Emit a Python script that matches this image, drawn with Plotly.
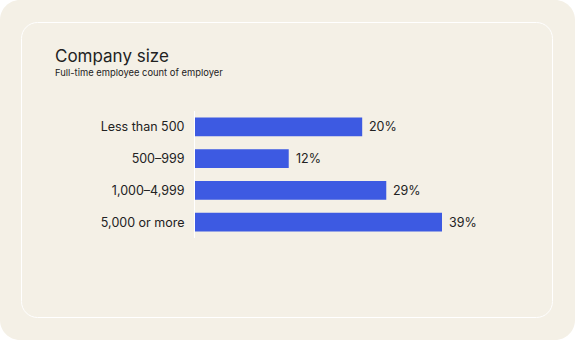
import plotly.graph_objects as go

# Data
categories = ["Less than 500", "500–999", "1,000–4,999", "5,000 or more"]
bar_values = [26.4, 14.8, 30.2, 39.0]   # bar lengths as drawn in the reference
value_labels = ["20%", "12%", "29%", "39%"]

W, H = 575, 340
ML, MR, MT, MB = 195, 75, 111, 102
PW, PH = W - ML - MR, H - MT - MB

BG = "#F4F0E6"
BAR = "#3D5AE2"
TXT = "#222222"
FONT = "Inter"


def px(x, y):
    return (x - ML) / PW, (H - MB - y) / PH


def rounded_path(x0, y0, x1, y1, r):
    k = 0.5523 * r
    def P(x, y):
        a, b = px(x, y)
        return f"{a:.5f},{b:.5f}"
    d = f"M {P(x0 + r, y0)} L {P(x1 - r, y0)} "
    d += f"C {P(x1 - r + k, y0)} {P(x1, y0 + r - k)} {P(x1, y0 + r)} "
    d += f"L {P(x1, y1 - r)} "
    d += f"C {P(x1, y1 - r + k)} {P(x1 - r + k, y1)} {P(x1 - r, y1)} "
    d += f"L {P(x0 + r, y1)} "
    d += f"C {P(x0 + r - k, y1)} {P(x0, y1 - r + k)} {P(x0, y1 - r)} "
    d += f"L {P(x0, y0 + r)} "
    d += f"C {P(x0, y0 + r - k)} {P(x0 + r - k, y0)} {P(x0 + r, y0)} Z"
    return d


fig = go.Figure()
fig.add_trace(go.Bar(
    y=categories, x=bar_values, orientation="h",
    marker=dict(color=BAR, line=dict(width=0)),
    hoverinfo="skip",
))

annotations = []
for c, v, lab in zip(categories, bar_values, value_labels):
    annotations.append(dict(
        x=v, y=c, xref="x", yref="y", text=lab, showarrow=False,
        xanchor="left", yanchor="middle", xshift=5,
        font=dict(family=FONT, size=12.5, color=TXT),
    ))

tx, ty = px(53, 68)
annotations.append(dict(
    x=tx, y=ty, xref="paper", yref="paper", text="Company size",
    showarrow=False, xanchor="left", yanchor="bottom",
    font=dict(family=FONT, size=17, color=TXT),
))
sx, sy = px(53, 65)
annotations.append(dict(
    x=sx, y=sy, xref="paper", yref="paper", text="Full-time employee count of employer",
    showarrow=False, xanchor="left", yanchor="top",
    font=dict(family=FONT, size=9.4, color=TXT),
))

shapes = [
    dict(type="path", path=rounded_path(0, 0, W, H, 20), xref="paper", yref="paper",
         fillcolor=BG, line=dict(width=0), layer="below"),
    dict(type="path", path=rounded_path(21.5, 22.5, 552.5, 317.5, 16), xref="paper", yref="paper",
         fillcolor="rgba(0,0,0,0)", line=dict(color="#FFFFFF", width=1), layer="below"),
]

fig.update_layout(
    width=W, height=H,
    margin=dict(l=ML, r=MR, t=MT, b=MB, pad=0),
    paper_bgcolor="#FFFFFF",
    plot_bgcolor="rgba(0,0,0,0)",
    bargap=0.41,
    showlegend=False,
    annotations=annotations,
    shapes=shapes,
    xaxis=dict(range=[0, 39.0 * PW / 247], visible=False, fixedrange=True),
    yaxis=dict(
        categoryorder="array", categoryarray=categories, autorange="reversed",
        showline=True, linecolor="#FFFFFF", linewidth=1, showgrid=False,
        zeroline=False, ticks="", ticklabelstandoff=7,
        tickfont=dict(family=FONT, size=12.5, color=TXT), fixedrange=True,
    ),
)

fig.write_html("out.html")
